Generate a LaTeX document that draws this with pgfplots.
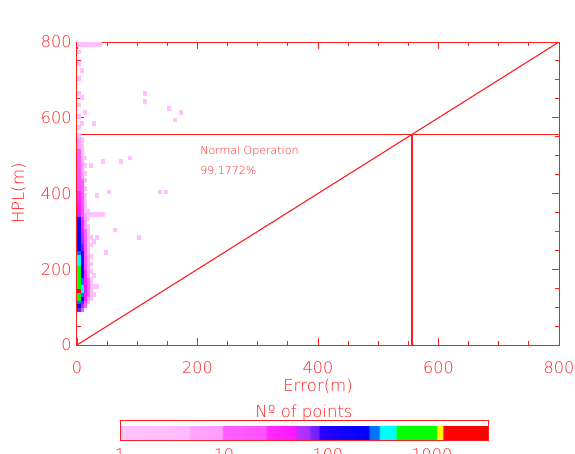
\documentclass[border=0pt]{standalone}
\usepackage{pgfplots}
\pgfplotsset{compat=1.18}
\usepackage{fontspec}
\setmainfont{DejaVu Sans ExtraLight}
\definecolor{idlred}{RGB}{255,30,30}
\pgfplotsset{colormap={idl}{
 rgb255(0cm)=(255,195,255) rgb255(0.66cm)=(255,188,255)
 rgb255(0.67cm)=(255,165,255) rgb255(0.98cm)=(255,158,255)
 rgb255(0.99cm)=(255,95,255) rgb255(1.40cm)=(255,80,255)
 rgb255(1.41cm)=(255,45,255) rgb255(1.69cm)=(255,20,255)
 rgb255(1.70cm)=(180,50,255) rgb255(1.82cm)=(170,45,255)
 rgb255(1.83cm)=(120,40,255) rgb255(1.91cm)=(110,30,255)
 rgb255(1.92cm)=(40,0,255) rgb255(2.39cm)=(0,0,255)
 rgb255(2.40cm)=(0,110,255) rgb255(2.49cm)=(0,120,255)
 rgb255(2.50cm)=(0,255,255) rgb255(2.65cm)=(0,255,255)
 rgb255(2.66cm)=(0,255,0) rgb255(3.04cm)=(0,255,0)
 rgb255(3.05cm)=(255,255,0) rgb255(3.10cm)=(255,255,0)
 rgb255(3.11cm)=(255,0,0) rgb255(3.54cm)=(255,0,0)}}
\begin{document}
\begin{tikzpicture}
\begin{axis}[
  scale only axis, width=482pt, height=303pt,
  xmin=0, xmax=800, ymin=0, ymax=800,
  xtick={0,200,...,800}, ytick={0,200,...,800},
  minor tick num=3,
  major tick length=7pt, minor tick length=4pt,
  axis on top,
  axis line style={idlred, line width=1pt},
  every tick/.style={idlred, line width=0.9pt},
  /pgf/number format/assume math mode=true,
  tick label style={font=\fontsize{16}{18}\selectfont, text=idlred},
  xticklabel style={anchor=base, yshift=-28pt},
  yticklabel style={xshift=-2pt},
  xlabel={Error(m)}, ylabel={HPL(m)},
  label style={font=\fontsize{16.5}{18}\selectfont, text=idlred},
  xlabel style={at={(axis description cs:0.5,-0.152)}, anchor=base},
  ylabel style={at={(axis description cs:-0.11,0.5)}, anchor=base, rotate=0},
  colormap name=idl,
  point meta min=0, point meta max=3.54,
  colorbar horizontal,
  colorbar style={
    at={(parent axis.south west)}, anchor=north west,
    xshift=43pt, yshift=-67pt,
    scale only axis, width=368pt, height=20pt,
    xtick={0,1,2,3}, xticklabels={1,10,100,1000},
    major tick length=0pt, minor tick length=0pt,
    axis line style={idlred, line width=0.9pt},
    xticklabel style={font=\fontsize{16}{18}\selectfont, text=idlred, anchor=base, yshift=-20pt},
    title={Nº of points},
    title style={at={(0.5,1)}, anchor=base, yshift=-3pt, font=\fontsize{16.5}{18}\selectfont, text=idlred},
  },
]
\addplot[scatter, only marks, mark=square*, mark size=1.5pt,
  scatter/use mapped color={draw=mapped color, fill=mapped color},
  mark options={yscale=1.26, line width=0.1pt}, point meta=explicit]
  table[x=x, y=y, meta=c, row sep=\\]{
x y c\\
2.5 795 0.6\\ 7.5 795 0.5\\ 12.5 795 0.4\\ 17.5 795 0.3\\ 22.5 795 0.3\\ 27.5 795 0.2\\ 32.5 795 0.2\\ 37.5 795 0.1\\
2.5 575 0.4\\ 2.5 605 0.3\\ 2.5 635 0.3\\ 2.5 665 0.2\\ 2.5 705 0.2\\ 2.5 745 0.2\\ 2.5 775 0.3\\
7.5 585 0.2\\ 7.5 655 0.1\\ 12.5 615 0.1\\ 7.5 725 0.1\\ 27.5 585 0.1\\
22.5 475 0.1\\ 42.5 485 0.1\\ 72.5 485 0.1\\ 87.5 495 0.1\\ 32.5 395 0.1\\ 137.5 405 0.1\\ 147.5 405 0.1\\
112.5 645 0.05\\ 112.5 665 0.05\\ 152.5 625 0.05\\ 172.5 615 0.05\\ 162.5 595 0.05\\ 52.5 405 0.1\\ 62.5 305 0.1\\ 47.5 245 0.1\\ 102.5 285 0.05\\
27.5 135 0.2\\ 27.5 155 0.2\\ 27.5 185 0.1\\ 27.5 275 0.2\\ 27.5 345 0.3\\
32.5 345 0.2\\ 32.5 285 0.1\\ 32.5 155 0.1\\ 37.5 345 0.2\\ 42.5 345 0.1\\
22.5 125 0.3\\ 22.5 135 0.5\\ 22.5 145 0.6\\ 22.5 155 0.5\\ 22.5 165 0.4\\ 22.5 175 0.3\\ 22.5 195 0.3\\ 22.5 215 0.2\\ 22.5 235 0.2\\ 22.5 265 0.2\\ 22.5 285 0.3\\ 22.5 345 0.3\\
17.5 115 0.6\\ 17.5 125 0.9\\ 17.5 135 1.0\\ 17.5 145 1.1\\ 17.5 155 1.1\\ 17.5 165 1.0\\ 17.5 175 1.0\\ 17.5 185 0.9\\ 17.5 195 0.9\\ 17.5 205 0.8\\ 17.5 215 0.8\\ 17.5 225 0.7\\ 17.5 235 0.7\\ 17.5 245 0.6\\ 17.5 255 0.6\\ 17.5 265 0.5\\ 17.5 275 0.5\\ 17.5 285 0.4\\ 17.5 295 0.4\\ 17.5 305 0.3\\ 17.5 315 0.2\\ 17.5 335 0.2\\ 17.5 345 0.3\\ 17.5 355 0.1\\
12.5 105 1.0\\ 12.5 115 1.3\\ 12.5 125 1.5\\ 12.5 135 1.6\\ 12.5 145 1.7\\ 12.5 155 1.65\\ 12.5 165 1.6\\ 12.5 175 1.55\\ 12.5 185 1.5\\ 12.5 195 1.45\\ 12.5 205 1.4\\ 12.5 215 1.4\\ 12.5 225 1.3\\ 12.5 235 1.3\\ 12.5 245 1.25\\ 12.5 255 1.2\\ 12.5 265 1.2\\ 12.5 275 1.1\\ 12.5 285 1.1\\ 12.5 295 1.0\\ 12.5 305 1.0\\ 12.5 315 0.9\\ 12.5 325 0.8\\ 12.5 335 0.8\\ 12.5 345 0.7\\ 12.5 355 0.6\\ 12.5 365 0.5\\ 12.5 375 0.4\\ 12.5 385 0.3\\ 12.5 395 0.2\\ 12.5 415 0.2\\ 12.5 435 0.1\\ 12.5 455 0.1\\ 12.5 475 0.1\\ 12.5 495 0.1\\
7.5 95 1.3\\ 7.5 105 1.7\\ 7.5 115 1.9\\ 7.5 125 2.2\\ 7.5 135 2.4\\ 7.5 145 2.6\\ 7.5 155 2.5\\ 7.5 165 2.4\\ 7.5 175 2.4\\ 7.5 185 2.3\\ 7.5 195 2.2\\ 7.5 205 2.2\\ 7.5 215 2.1\\ 7.5 225 2.0\\ 7.5 235 2.0\\ 7.5 245 1.95\\ 7.5 255 1.9\\ 7.5 265 1.85\\ 7.5 275 1.8\\ 7.5 285 1.75\\ 7.5 295 1.7\\ 7.5 305 1.65\\ 7.5 315 1.6\\ 7.5 325 1.55\\ 7.5 335 1.5\\ 7.5 345 1.4\\ 7.5 355 1.3\\ 7.5 365 1.25\\ 7.5 375 1.2\\ 7.5 385 1.15\\ 7.5 395 1.1\\ 7.5 405 1.1\\ 7.5 415 1.05\\ 7.5 425 1.0\\ 7.5 435 1.0\\ 7.5 445 0.95\\ 7.5 455 0.9\\ 7.5 465 0.85\\ 7.5 475 0.8\\ 7.5 485 0.7\\ 7.5 495 0.6\\ 7.5 505 0.5\\ 7.5 515 0.4\\ 7.5 525 0.3\\ 7.5 535 0.2\\ 7.5 545 0.1\\
2.5 95 1.9\\ 2.5 105 2.2\\ 2.5 115 2.4\\ 2.5 125 2.8\\ 2.5 135 2.95\\ 2.5 145 3.2\\ 2.5 155 3.0\\ 2.5 165 2.9\\ 2.5 175 3.0\\ 2.5 185 2.9\\ 2.5 195 2.8\\ 2.5 205 2.7\\ 2.5 215 2.6\\ 2.5 225 2.6\\ 2.5 235 2.55\\ 2.5 245 2.4\\ 2.5 255 2.3\\ 2.5 265 2.25\\ 2.5 275 2.2\\ 2.5 285 2.2\\ 2.5 295 2.15\\ 2.5 305 2.1\\ 2.5 315 2.05\\ 2.5 325 2.0\\ 2.5 335 1.95\\ 2.5 345 1.7\\ 2.5 355 1.65\\ 2.5 365 1.6\\ 2.5 375 1.55\\ 2.5 385 1.5\\ 2.5 395 1.5\\ 2.5 405 1.45\\ 2.5 415 1.4\\ 2.5 425 1.4\\ 2.5 435 1.35\\ 2.5 445 1.3\\ 2.5 455 1.3\\ 2.5 465 1.25\\ 2.5 475 1.2\\ 2.5 485 1.15\\ 2.5 495 1.1\\ 2.5 505 1.05\\ 2.5 515 1.0\\ 2.5 525 0.9\\ 2.5 535 0.85\\ 2.5 545 0.7\\ 2.5 555 0.5\\
};
\addplot[idlred, line width=1.1pt, no marks] coordinates {(0,0) (800,800)};
\addplot[idlred, line width=1.1pt, no marks] coordinates {(0,556) (800,556)};
\addplot[idlred, line width=1.1pt, no marks] coordinates {(556,0) (556,556)};
\node[anchor=base west, text=idlred, font=\fontsize{11}{13}\selectfont] at (axis cs:199,502) {Normal Operation};
\node[anchor=base west, text=idlred, font=\fontsize{11}{13}\selectfont] at (axis cs:199,449) {99,1772\%};
\node[anchor=base, text=idlred, font=\fontsize{19}{22}\selectfont] at (axis description cs:0.438,1.046) {Horizontal Performance};
\end{axis}
\pgfresetboundingbox
\useasboundingbox (-77pt,-108pt) rectangle (498pt,345pt);
\end{tikzpicture}
\end{document}
